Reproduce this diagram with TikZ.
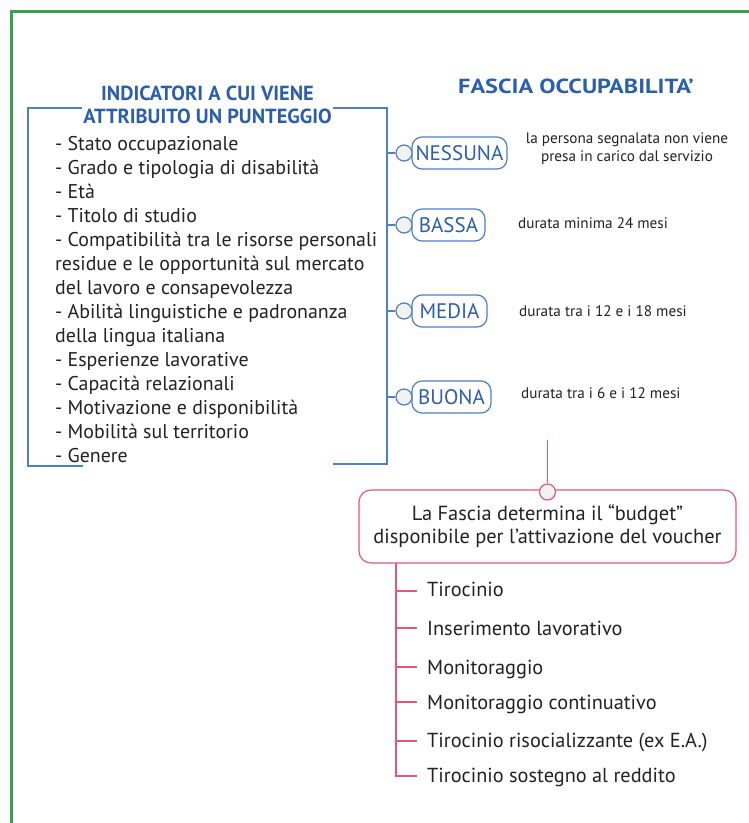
\documentclass[tikz,border=0pt]{standalone}
\usepackage{fontspec}
\setmainfont{PT Sans}
\definecolor{frameg}{HTML}{3D9E4F}
\definecolor{bline}{HTML}{4F7FC7}
\definecolor{btext}{HTML}{2B5FAD}
\definecolor{rline}{HTML}{E2577C}
\definecolor{ink}{HTML}{222222}
\definecolor{knobfill}{HTML}{F2F2F2}
\begin{document}
\begin{tikzpicture}[x=1pt,y=-1pt,
  listtxt/.style={anchor=base west,inner sep=0pt,font=\fontsize{19.9}{24}\selectfont,text=ink},
  head/.style={anchor=base,inner sep=0pt,font=\bfseries\fontsize{20.4}{23}\selectfont,text=btext},
  lvl/.style={draw=bline,line width=1.2pt,rounded corners=10pt,minimum height=32pt,inner sep=0pt,text=btext,font=\fontsize{21}{21}\selectfont},
  knob/.style={circle,draw=bline,fill=knobfill,line width=1.2pt,minimum size=16pt,inner sep=0pt},
  desc/.style={inner sep=0pt,text=ink,font=\fontsize{15.2}{18}\selectfont},
  bl/.style={draw=bline,line width=1.2pt},
  rl/.style={draw=rline,line width=1.2pt},
  rbox/.style={draw=rline,line width=1.2pt,rounded corners=12pt,minimum width=377pt,minimum height=73pt,align=center,fill=white,text=ink,font=\fontsize{20.4}{23}\selectfont,inner sep=0pt},
  itemtxt/.style={anchor=base west,inner sep=0pt,font=\fontsize{20.3}{24}\selectfont,text=ink}]
\useasboundingbox (0,0) rectangle (749,823);
\fill[white] (0,0) rectangle (749,823);
% green frame
\draw[frameg,line width=3pt] (11.5,823) -- (11.5,11.5) -- (749,11.5);
% left bracket
\coordinate (btl) at (82,108);
\coordinate (btr) at (333,108);
\coordinate (bbl) at (83,466);
\coordinate (bbr) at (333,464);
\draw[bl] (btl) -- (28,108) -- (28,466) -- (bbl);
\draw[bl] (btr) -- (387,108) -- (387,464) -- (bbr);
% headings
\node[head] (h1) at (207.5,100) {INDICATORI A CUI VIENE};
\node[head] (h2) at (207.5,123) {ATTRIBUITO UN PUNTEGGIO};
\node[head] (h3) at (576,93) {\scalebox{1.19}[1]{FASCIA OCCUPABILITA’}};
% list
\foreach \t [count=\i from 0] in {- Stato occupazionale,- Grado e tipologia di disabilità,- Età,- Titolo di studio,- Compatibilità tra le risorse personali,residue e le opportunità sul mercato,del lavoro e consapevolezza,- Abilità linguistiche e padronanza,della lingua italiana,- Esperienze lavorative,- Capacità relazionali,- Motivazione e disponibilità,- Mobilità sul territorio,- Genere}
  \node[listtxt] (li\i) at (55,{150+24*\i}) {\t};
% levels
\node[lvl,minimum width=95pt] (l1) at (459.5,153) {NESSUNA};
\node[lvl,minimum width=73pt] (l2) at (448.5,225) {BASSA};
\node[lvl,minimum width=75pt] (l3) at (449.5,311) {MEDIA};
\node[lvl,minimum width=79pt] (l4) at (451.5,397) {BUONA};
\node[knob] (k1) at (404,153) {};
\node[knob] (k2) at (404,225) {};
\node[knob] (k3) at (404,311) {};
\node[knob] (k4) at (404,397) {};
\coordinate (s1) at (387,153);
\coordinate (s2) at (387,225);
\coordinate (s3) at (387,311);
\coordinate (s4) at (387,397);
\foreach \i in {1,2,3,4} \draw[bl] (s\i) -- (k\i.west);
% descriptions
\node[desc,anchor=base] (d1a) at (627,143) {la persona segnalata non viene};
\node[desc,anchor=base] (d1b) at (627,161) {presa in carico dal servizio};
\node[desc,anchor=base west] (d2) at (518,228) {durata minima 24 mesi};
\node[desc,anchor=base west] (d3) at (519,316) {durata tra i 12 e i 18 mesi};
\node[desc,anchor=base west] (d4) at (521,398) {durata tra i 6 e i 12 mesi};
% red part
\node[rbox] (rb) at (547.5,526.5) {La Fascia determina il “budget”\\disponibile per l’attivazione del voucher};
\node[knob,draw=rline] (rk) at (547.5,492) {};
\coordinate (rtop) at (547.5,440);
\draw[rl] (rtop) -- (rk.north);
\coordinate (sp0) at (396,563);
\coordinate (spend) at (396,776);
\draw[rl] (sp0) -- (spend) -- (417,776);
\foreach \ty/\by/\t [count=\i] in {591/596/Tirocinio,628/635/Inserimento lavorativo,667/674/Monitoraggio,702/709/Monitoraggio continuativo,741/747/Tirocinio risocializzante (ex E.A.),776/782/Tirocinio sostegno al reddito}{
  \node[itemtxt] (it\i) at (427,\by) {\t};
  \draw[rl] (396,\ty) -- (417,\ty);
}
\end{tikzpicture}
\end{document}
